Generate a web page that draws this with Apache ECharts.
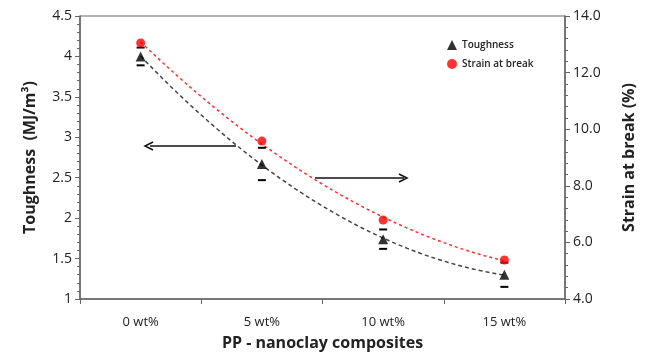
<!DOCTYPE html>
<html><head><meta charset="utf-8">
<script src="https://cdn.jsdelivr.net/npm/echarts@6/dist/echarts.min.js"></script>
<style>html,body{margin:0;padding:0;background:#fff}#c{width:646px;height:356px}</style>
</head><body><div id="c"></div>
<script>
const categories = ['0 wt%', '5 wt%', '10 wt%', '15 wt%'];
const toughness = [4.0, 2.67, 1.74, 1.30];
const toughnessErr = [0.11, 0.2, 0.12, 0.15];
const strain = [13.05, 9.58, 6.79, 5.38];
const leftTicks = { min: 1, max: 4.5, interval: 0.5 };
const rightTicks = { min: 4, max: 14, interval: 2 };

// second-order polynomial trendline (least squares) fitted to the data, as in the original figure
function quadFit(ys) {
  const xs = ys.map((_, i) => i);
  let S = [0, 0, 0, 0, 0], T = [0, 0, 0];
  xs.forEach((x, i) => { for (let k = 0; k < 5; k++) S[k] += Math.pow(x, k); for (let k = 0; k < 3; k++) T[k] += ys[i] * Math.pow(x, k); });
  const A = [[S[0], S[1], S[2], T[0]], [S[1], S[2], S[3], T[1]], [S[2], S[3], S[4], T[2]]];
  for (let c = 0; c < 3; c++) {
    for (let r = c + 1; r < 3; r++) { const f = A[r][c] / A[c][c]; for (let k = c; k < 4; k++) A[r][k] -= f * A[c][k]; }
  }
  const b = [0, 0, 0];
  for (let r = 2; r >= 0; r--) { let s = A[r][3]; for (let k = r + 1; k < 3; k++) s -= A[r][k] * b[k]; b[r] = s / A[r][r]; }
  const pts = [];
  for (let j = 0; j <= 60; j++) { const x = 3 * j / 60; pts.push([x, b[0] + b[1] * x + b[2] * x * x]); }
  return pts;
}

const FONT = '"Open Sans", "Noto Sans", sans-serif';
const axisCol = '#666';
const txtCol = '#222';

const chart = echarts.init(document.getElementById('c'));
chart.setOption({
  animation: false,
  grid: { left: 80, right: 81, top: 16, bottom: 57, show: true, borderColor: axisCol, borderWidth: 1, outerBoundsMode: 'none', containLabel: false },
  legend: {
    orient: 'vertical', left: 442, top: 35, itemGap: 9, itemWidth: 10, itemHeight: 10,
    textStyle: { fontFamily: FONT, fontSize: 10, color: txtCol, fontWeight: 600 },
    data: [{ name: 'Toughness', icon: 'triangle' }, { name: 'Strain at break', icon: 'circle' }]
  },
  xAxis: [{
    type: 'category', data: categories, boundaryGap: true,
    name: 'PP - nanoclay composites', nameLocation: 'middle', nameGap: 36, nameMoveOverlap: false,
    nameTextStyle: { fontFamily: FONT, fontSize: 16, fontWeight: 'bold', color: txtCol },
    axisLine: { lineStyle: { color: axisCol, width: 1.5 } },
    axisTick: { show: true, length: 5, lineStyle: { color: axisCol } },
    axisLabel: { fontFamily: FONT, fontSize: 13, color: txtCol, margin: 17 },
    splitLine: { show: false }
  }, {
    type: 'value', min: -0.5, max: 3.5, show: false, axisLine: { show: false, onZero: false }
  }],
  yAxis: [{
    type: 'value', position: 'left', min: leftTicks.min, max: leftTicks.max, interval: leftTicks.interval,
    name: 'Toughness  (MJ/m³)', nameLocation: 'middle', nameGap: 42, nameRotate: 90, nameMoveOverlap: false,
    nameTextStyle: { fontFamily: FONT, fontSize: 16, fontWeight: 'bold', color: txtCol },
    axisLine: { show: true, onZero: false, lineStyle: { color: axisCol, width: 1.5 } },
    axisTick: { show: true, length: 5, lineStyle: { color: axisCol } },
    minorTick: { show: true, splitNumber: 5, length: 3, lineStyle: { color: axisCol } },
    axisLabel: { fontFamily: FONT, fontSize: 14, color: txtCol, margin: 8 },
    splitLine: { show: false }
  }, {
    type: 'value', position: 'right', min: rightTicks.min, max: rightTicks.max, interval: rightTicks.interval,
    name: 'Strain at break (%)', nameLocation: 'middle', nameGap: 56, nameRotate: 90, nameMoveOverlap: false,
    nameTextStyle: { fontFamily: FONT, fontSize: 16, fontWeight: 'bold', color: txtCol },
    axisLine: { show: true, onZero: false, lineStyle: { color: axisCol, width: 1.5 } },
    axisTick: { show: true, length: 5, lineStyle: { color: axisCol } },
    minorTick: { show: true, splitNumber: 5, length: 3, lineStyle: { color: axisCol } },
    axisLabel: { fontFamily: FONT, fontSize: 14, color: txtCol, margin: 8, formatter: v => v.toFixed(1) },
    splitLine: { show: false }
  }],
  series: [{
    name: 'ToughFit', type: 'line', xAxisIndex: 1, yAxisIndex: 0, data: quadFit(toughness), showSymbol: false, symbol: 'none',
    lineStyle: { color: '#444', width: 1.5, type: [4, 3] }, z: 1, silent: true
  }, {
    name: 'StrainFit', type: 'line', xAxisIndex: 1, yAxisIndex: 1, data: quadFit(strain), showSymbol: false, symbol: 'none',
    lineStyle: { color: '#ff3030', width: 1.5, type: [3, 3] }, z: 1, silent: true
  }, {
    name: 'Toughness', type: 'scatter', yAxisIndex: 0, data: toughness,
    symbol: 'triangle', symbolSize: 10, itemStyle: { color: '#000' }, z: 3
  }, {
    name: 'Strain at break', type: 'scatter', yAxisIndex: 1, data: strain,
    symbol: 'circle', symbolSize: 9, itemStyle: { color: '#ff0000' }, z: 4
  }, {
    name: 'ToughErr', type: 'custom', yAxisIndex: 0, z: 2,
    data: toughness.map((v, i) => [i, v - toughnessErr[i], v + toughnessErr[i]]),
    renderItem: (params, api) => {
      const lo = api.coord([api.value(0), api.value(1)]);
      const hi = api.coord([api.value(0), api.value(2)]);
      const w = 4;
      return { type: 'group', children: [
        { type: 'line', shape: { x1: lo[0] - w, y1: lo[1], x2: lo[0] + w, y2: lo[1] }, style: { stroke: '#000', lineWidth: 2 } },
        { type: 'line', shape: { x1: hi[0] - w, y1: hi[1], x2: hi[0] + w, y2: hi[1] }, style: { stroke: '#000', lineWidth: 2 } }
      ]};
    }
  }],
  graphic: [
    { type: 'line', shape: { x1: 150, y1: 146, x2: 236, y2: 146 }, style: { stroke: '#111', lineWidth: 1.5 } },
    { type: 'polyline', shape: { points: [[153, 142], [145, 146], [153, 150]] }, style: { stroke: '#111', lineWidth: 1.5, fill: null } },
    { type: 'line', shape: { x1: 315, y1: 178, x2: 404, y2: 178 }, style: { stroke: '#111', lineWidth: 1.5 } },
    { type: 'polyline', shape: { points: [[399, 174], [407, 178], [399, 182]] }, style: { stroke: '#111', lineWidth: 1.5, fill: null } }
  ]
});
</script></body></html>
